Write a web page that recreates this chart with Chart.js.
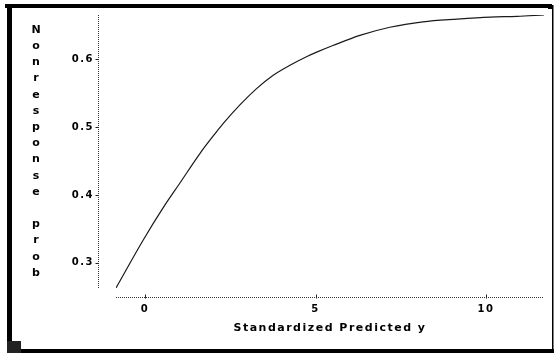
<!DOCTYPE html>
<html>
<head>
<meta charset="utf-8">
<script src="https://cdn.jsdelivr.net/npm/chart.js@4.4.1/dist/chart.umd.min.js"></script>
<style>
html,body{margin:0;padding:0;background:#fff;}
#wrap{width:556px;height:353px;position:relative;}
</style>
</head>
<body>
<div id="wrap"><canvas id="c" width="556" height="353"></canvas></div>
<script>
// ---- data ----
const predictedY = [-0.85, -0.06, 0.53, 1.03, 1.61, 2.05, 2.29, 2.79, 3.28, 3.75, 4.25, 4.75, 5.07, 5.51, 6.30, 7.18, 8.15, 9.15, 10.12, 10.91, 11.7];
const nonresponseProb = [0.263, 0.333, 0.381, 0.418, 0.461, 0.490, 0.505, 0.533, 0.557, 0.576, 0.591, 0.604, 0.611, 0.620, 0.635, 0.647, 0.655, 0.659, 0.662, 0.663, 0.665];
const xTicks = [0, 5, 10];
const yTicks = [0.3, 0.4, 0.5, 0.6];
const xTitle = 'Standardized Predicted y';
const yTitle = 'Nonresponse prob';

const FONT = '"DejaVu Sans", sans-serif';

const framePlugin = {
  id: 'frame',
  beforeDraw(chart) {
    chart.ctx.letterSpacing = '1.5px';
  },
  afterDraw(chart) {
    const ctx = chart.ctx;
    const xs = chart.scales.x, ys = chart.scales.y;
    ctx.save();
    ctx.letterSpacing = '0px';
    // detached dotted axis lines
    ctx.strokeStyle = '#333';
    ctx.lineWidth = 1;
    ctx.setLineDash([1, 1]);
    const axX = xs.left - 17.5;
    ctx.beginPath();
    ctx.moveTo(axX, ys.getPixelForValue(ys.max));
    ctx.lineTo(axX, ys.getPixelForValue(ys.min));
    ctx.stroke();
    const axY = ys.bottom + 9.5;
    ctx.beginPath();
    ctx.moveTo(xs.getPixelForValue(xs.min), axY);
    ctx.lineTo(xs.getPixelForValue(xs.max), axY);
    ctx.stroke();
    ctx.setLineDash([]);
    ctx.strokeStyle = '#222';
    yTicks.forEach(v => {
      const p = Math.round(ys.getPixelForValue(v)) + 0.5;
      ctx.beginPath(); ctx.moveTo(axX - 3, p); ctx.lineTo(axX, p); ctx.stroke();
    });
    xTicks.forEach(v => {
      const p = Math.round(xs.getPixelForValue(v)) + 0.5;
      ctx.beginPath(); ctx.moveTo(p, axY - 3); ctx.lineTo(p, axY + 1); ctx.stroke();
    });
    // vertical stacked y-axis title
    ctx.fillStyle = '#000';
    ctx.font = 'bold 11px ' + FONT;
    ctx.textAlign = 'center';
    ctx.textBaseline = 'middle';
    yTitle.split('').forEach((ch, i) => {
      ctx.fillText(ch, 36, 30 + i * 16.2);
    });
    // page frame
    ctx.fillStyle = '#000';
    ctx.fillRect(5, 4, 544, 4);
    ctx.fillRect(7, 4, 5, 349);
    ctx.fillRect(7, 349, 547, 4);
    ctx.fillRect(552, 5, 1.5, 345);
    ctx.fillRect(548, 4, 4, 5);
    ctx.fillStyle = '#222';
    ctx.fillRect(7, 341, 14, 12);
    ctx.restore();
  }
};

new Chart(document.getElementById('c'), {
  type: 'line',
  data: {
    datasets: [{
      data: predictedY.map((x, i) => ({x: x, y: nonresponseProb[i]})),
      borderColor: '#1a1a1a',
      borderWidth: 1.2,
      pointRadius: 0,
      fill: false,
      cubicInterpolationMode: 'monotone'
    }]
  },
  plugins: [framePlugin],
  options: {
    responsive: false,
    animation: false,
    devicePixelRatio: 1,
    layout: {padding: {top: 15, right: 12, left: 0, bottom: 0}},
    plugins: {legend: {display: false}, tooltip: {enabled: false}},
    scales: {
      x: {
        type: 'linear',
        min: -0.85, max: 11.7,
        grid: {display: false, drawTicks: false},
        border: {display: false},
        afterFit(s) { s.height = 65; s.paddingLeft = 0; s.paddingRight = 0; },
        afterBuildTicks(s) { s.ticks = xTicks.map(v => ({value: v})); },
        ticks: {padding: 15, color: '#000', font: {family: FONT, size: 10, weight: 'bold'}, maxRotation: 0},
        title: {display: true, text: xTitle, color: '#000', padding: {top: 0, bottom: 18}, font: {family: FONT, size: 11, weight: 'bold'}}
      },
      y: {
        type: 'linear',
        min: 0.263, max: 0.665,
        grid: {display: false, drawTicks: false},
        border: {display: false},
        afterFit(s) { s.width = 116; s.paddingTop = 0; s.paddingBottom = 0; },
        afterBuildTicks(s) { s.ticks = yTicks.map(v => ({value: v})); },
        ticks: {padding: 22, color: '#000', font: {family: FONT, size: 10, weight: 'bold'}}
      }
    }
  }
});
</script>
</body>
</html>
